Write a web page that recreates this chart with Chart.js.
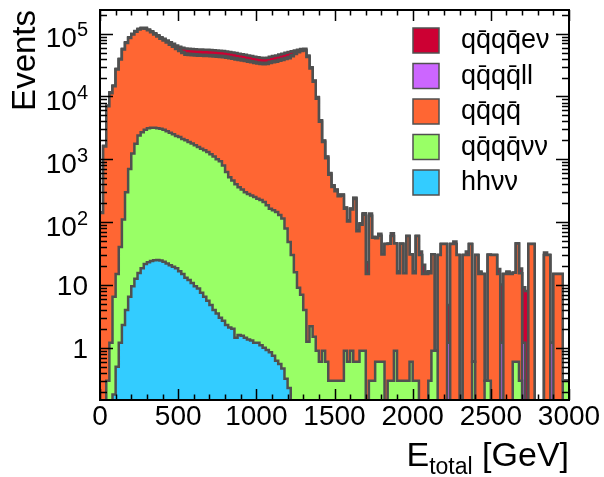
<!DOCTYPE html>
<html>
<head>
<meta charset="utf-8">
<script src="https://cdn.jsdelivr.net/npm/chart.js@4.4.1/dist/chart.umd.min.js"></script>
<style>
  html, body { margin: 0; padding: 0; background: #fff; }
  #wrap { width: 604px; height: 477px; }
</style>
</head>
<body>
<div id="wrap"><canvas id="c" width="604" height="477"></canvas></div>
<script>
// 150 bins of 20 GeV, E_total from 0 to 3000 GeV
const binWidth = 20;
const xTicks = [0, 500, 1000, 1500, 2000, 2500, 3000];
const yTicks = [1, 10, 100, 1000, 10000, 100000];
const yTickBase = ['1', '10', '10', '10', '10', '10'];
const yTickExp = ['', '', '2', '3', '4', '5'];

// stack order, bottom to top
const stackNames = ['hhνν', 'qq̄qq̄νν', 'qq̄qq̄', 'qq̄qq̄ll', 'qq̄qq̄eν'];
const stackColors = ['#33ccff', '#99ff66', '#ff6633', '#cc66ff', '#cc0033'];

const hhvv = [
  0, 0, 0, 0, 0.18, 0.5, 1.2, 2.3, 4.0, 6.5,
  9.5, 12.5, 15.5, 18.5, 21.5, 23, 24, 24.8, 25, 24.5,
  23.5, 22, 20.5, 19.5, 18.5, 16.5, 15, 13, 12, 10.7,
  9.5, 8.8, 7.5, 6.5, 5.6, 4.8, 4.0, 3.5, 3.0, 2.7,
  2.3, 2.1, 2.0, 1.45, 1.6, 1.55, 1.45, 1.35, 1.3, 1.2,
  1.2, 1.1, 1.0, 0.92, 0.85, 0.75, 0.62, 0.55, 0.47, 0.32,
  0.23, 0, 0, 0, 0, 0, 0, 0, 0, 0,
  0, 0, 0, 0, 0, 0, 0, 0, 0, 0,
  0, 0, 0, 0, 0, 0, 0, 0, 0, 0,
  0, 0, 0, 0, 0, 0, 0, 0, 0, 0,
  0, 0, 0, 0, 0, 0, 0, 0, 0, 0,
  0, 0, 0, 0, 0, 0, 0, 0, 0, 0,
  0, 0, 0, 0, 0, 0, 0, 0, 0, 0,
  0, 0, 0, 0, 0, 0, 0, 0, 0, 0,
  0, 0, 0, 0, 0, 0, 0, 0, 0, 0
];

const qqqqvv = [
  0, 0, 0.3, 1.2, 6.3, 14.5, 39, 108, 296, 694,
  1230, 1760, 2380, 2680, 2930, 3110, 3150, 3160, 3110, 3030,
  2930, 2780, 2630, 2480, 2330, 2250, 2090, 1990, 1870, 1770,
  1660, 1560, 1470, 1390, 1300, 1200, 1100, 1000, 927, 797,
  628, 518, 458, 398, 358, 328, 298, 279, 264, 249,
  235, 224, 209, 184, 163, 154, 144, 129, 114, 79,
  48, 30, 16, 9, 7, 4, 1.25, 2.2, 1.5, 0.9,
  0.6, 0.9, 0.6, 0.3, 0.3, 0.3, 0.3, 0.3, 0.9, 0.6,
  0.9, 0.6, 0.6, 0.9, 0.9, 0, 0.3, 0.3, 0.6, 0.6,
  0.6, 0, 0.3, 0.3, 0.9, 0.3, 0.3, 0.3, 0.3, 0.6,
  0.3, 0.3, 0, 0, 0, 0.3, 0.9, 0.9, 0, 0,
  0, 0, 0, 0, 0, 0, 0, 0, 0, 0.6,
  0, 0, 0, 0.3, 0.3, 0, 0, 0, 0, 0,
  0, 0, 0.6, 0.6, 0.3, 0, 0, 0, 0, 0,
  0, 0, 0, 0, 0, 0, 0, 0, 0.3, 0.3
];

const qqqq = [
  140, 1600, 6980, 11300, 14500, 26900, 38600, 55800, 70500, 84700,
  95800, 105000, 114000, 117600, 117300, 109800, 102400, 94200, 87100, 80100,
  75210, 69820, 64050, 59300, 54550, 50530, 47150, 44110, 43830, 43540,
  43250, 42950, 42880, 42720, 42650, 42530, 42230, 41930, 41600, 41340,
  40710, 40030, 39290, 38560, 37800, 37040, 36270, 35500, 34720, 33940,
  33150, 32770, 32390, 32810, 34030, 34830, 35640, 36840, 38050, 39270,
  40500, 43670, 47280, 50590, 52890, 54150, 42700, 27800, 17100, 9210,
  3950, 1880, 1040, 569, 363, 310, 258, 262, 162, 102,
  158, 233, 71, 90, 130, 15, 125, 56, 55, 60,
  30, 45, 45, 60, 45, 15, 45, 15, 60, 30,
  15, 60, 30, 15, 15, 15, 30, 0, 30, 45,
  45, 0, 45, 45, 30, 0, 30, 30, 45, 0,
  30, 15, 15, 0, 30, 30, 30, 15, 0, 15,
  15, 15, 15, 45, 15, 0, 0, 45, 45, 0,
  0, 0, 30, 30, 0, 15, 15, 15, 0, 0
];

const qqqqll = [
  1.4, 16, 72, 117, 150, 277, 398, 576, 730, 880,
  1000, 1100, 1200, 1240, 1240, 1230, 1210, 1180, 1150, 1120,
  1100, 1080, 1200, 1400, 1600, 1800, 1950, 2030, 2010, 2000,
  1980, 1960, 1950, 1940, 1940, 1930, 1910, 1890, 1870, 1860,
  1820, 1790, 1750, 1720, 1680, 1650, 1610, 1580, 1540, 1510,
  1470, 1450, 1440, 1450, 1510, 1540, 1580, 1630, 1680, 1730,
  1790, 1800, 1700, 1400, 1300, 1150, 900, 880, 540, 490,
  210, 100, 55, 30, 19, 17, 14, 10, 6, 4,
  5, 8, 2, 3, 4, 0, 2, 1, 1.2, 0,
  0, 0, 0, 0, 0, 1.2, 0, 0, 0, 0,
  1.2, 0, 0, 0, 1.2, 1.2, 0, 0, 0, 0,
  0, 1.2, 0, 0, 0, 0, 0, 0, 0, 0,
  0, 1.2, 0, 0, 0, 0, 0, 0, 1.2, 0,
  1.2, 0, 0, 0, 0, 1.2, 0, 0, 0, 0,
  0, 0, 0, 0, 1.2, 0, 0, 0, 0, 0
];

const qqqqev = [
  2.9, 33, 144, 234, 300, 554, 796, 1150, 1460, 1760,
  2000, 2200, 2400, 2480, 2480, 2340, 2750, 3060, 3330, 3520,
  3740, 4300, 5100, 5800, 6500, 7400, 8300, 9860, 9780, 9690,
  9610, 9520, 9490, 9440, 9400, 9350, 9270, 9180, 9100, 9010,
  8840, 8670, 8500, 8330, 8160, 7990, 7820, 7650, 7480, 7310,
  7140, 7060, 6970, 7060, 7310, 7480, 7650, 7910, 8160, 8420,
  8670, 7000, 5000, 3500, 2800, 2300, 1350, 590, 360, 98,
  42, 20, 11, 6, 4, 3, 3, 3, 2, 1,
  1, 2, 1, 2, 3, 8, 10, 1, 1, 5,
  0, 0, 0, 6, 0, 0, 0, 0, 0, 0,
  0, 0, 4, 6, 0, 0, 0, 0, 0, 0,
  0, 3.6, 0, 4, 0, 0, 0, 4, 0, 0,
  0, 0, 0, 0, 0, 0, 0, 3, 9, 0,
  0, 0, 0, 0, 3, 8, 8, 0, 0, 0,
  0, 0, 3, 0, 0, 0, 0, 0, 0, 0
];

const stack = [hhvv, qqqqvv, qqqq, qqqqll, qqqqev];

// cumulative sums for the stacked histogram
const cumulative = [];
let running = new Array(hhvv.length).fill(0);
stack.forEach(s => {
  running = running.map((v, i) => v + s[i]);
  cumulative.push(running.slice());
});

// empty bins go below the axis minimum so they are clipped away
function stepPoints(arr) {
  const pts = arr.map((v, i) => ({ x: i * binWidth, y: v > 0 ? v : 1e-3 }));
  pts.push({ x: arr.length * binWidth, y: pts[pts.length - 1].y });
  return pts;
}

const outline = '#505050';
const font = '"Liberation Sans", Arial, Helvetica, sans-serif';

// index 0 is drawn last, so lowest stack component sits on top
const datasets = cumulative.map((c, i) => ({
  label: stackNames[i],
  data: stepPoints(c),
  stepped: true,
  borderColor: outline,
  borderWidth: 2.5,
  backgroundColor: stackColors[i],
  fill: 'start',
  pointRadius: 0,
  tension: 0
}));

const rootStyle = {
  id: 'rootStyle',
  afterDraw(chart) {
    const ctx = chart.ctx;
    const a = chart.chartArea;
    const xs = chart.scales.x;
    const ys = chart.scales.y;
    ctx.save();

    // ticks
    ctx.strokeStyle = '#000';
    ctx.lineWidth = 1.5;
    ctx.beginPath();
    for (let v = 0; v <= 3000; v += 100) {
      const px = Math.round(xs.getPixelForValue(v)) + 0.5;
      const len = v % 500 === 0 ? 11 : 5.5;
      ctx.moveTo(px, a.bottom); ctx.lineTo(px, a.bottom - len);
      ctx.moveTo(px, a.top); ctx.lineTo(px, a.top + len);
    }
    for (let e = -1; e <= 5; e++) {
      for (let m = 1; m <= 9; m++) {
        const v = m * Math.pow(10, e);
        if (v < ys.min || v > ys.max) continue;
        const py = Math.round(ys.getPixelForValue(v)) + 0.5;
        const len = m === 1 ? 13 : 7;
        ctx.moveTo(a.left, py); ctx.lineTo(a.left + len, py);
        ctx.moveTo(a.right, py); ctx.lineTo(a.right - len, py);
      }
    }
    ctx.stroke();

    // frame
    ctx.lineWidth = 2;
    ctx.strokeRect(a.left, a.top, a.right - a.left, a.bottom - a.top);

    // x tick labels
    ctx.fillStyle = '#000';
    ctx.font = '28px ' + font;
    ctx.textAlign = 'center';
    ctx.textBaseline = 'alphabetic';
    xTicks.forEach(v => ctx.fillText(String(v), xs.getPixelForValue(v), 425));

    // y tick labels, 10 with superscript exponent
    ctx.textAlign = 'left';
    yTicks.forEach((v, i) => {
      const py = ys.getPixelForValue(v);
      ctx.font = '28px ' + font;
      const wb = ctx.measureText(yTickBase[i]).width;
      if (yTickExp[i]) {
        ctx.font = '20px ' + font;
        const we = ctx.measureText(yTickExp[i]).width;
        const x0 = 88 - we - wb;
        ctx.font = '28px ' + font;
        ctx.fillText(yTickBase[i], x0, py + 13.5);
        ctx.font = '20px ' + font;
        ctx.fillText(yTickExp[i], x0 + wb, py + 2.5);
      } else {
        ctx.fillText(yTickBase[i], 88 - wb, py + 10.5);
      }
    });

    // y title
    ctx.save();
    ctx.translate(35, a.top);
    ctx.rotate(-Math.PI / 2);
    ctx.font = '33px ' + font;
    ctx.textAlign = 'right';
    ctx.fillText('Events', 0, 0);
    ctx.restore();

    // x title: E_total [GeV]
    const big = '34px ' + font, small = '23px ' + font;
    ctx.font = big; const wE = ctx.measureText('E').width;
    const wG = ctx.measureText(' [GeV]').width;
    ctx.font = small; const wt = ctx.measureText('total').width;
    let tx = a.right - (wE + wt + wG);
    ctx.textAlign = 'left';
    ctx.font = big; ctx.fillText('E', tx, 466); tx += wE;
    ctx.font = small; ctx.fillText('total', tx, 474); tx += wt;
    ctx.font = big; ctx.fillText(' [GeV]', tx, 466);

    // legend, top component first
    ctx.font = '27px ' + font;
    ctx.textBaseline = 'middle';
    for (let j = 0; j < stackNames.length; j++) {
      const i = stackNames.length - 1 - j;
      const by = 28 + 35.5 * j;
      ctx.fillStyle = stackColors[i];
      ctx.fillRect(413, by, 26, 25);
      ctx.strokeStyle = outline;
      ctx.lineWidth = 1.5;
      ctx.strokeRect(413, by, 26, 25);
      ctx.fillStyle = '#000';
      ctx.fillText(stackNames[i], 461, by + 13);
    }
    ctx.restore();
  }
};

new Chart(document.getElementById('c'), {
  type: 'line',
  data: { datasets },
  options: {
    responsive: false,
    animation: false,
    devicePixelRatio: 1,
    layout: { padding: { left: 100, right: 35, top: 10, bottom: 77 } },
    plugins: { legend: { display: false }, tooltip: { enabled: false } },
    scales: {
      x: { type: 'linear', min: 0, max: 3000, display: false },
      y: { type: 'logarithmic', min: 0.1475, max: 238000, display: false }
    }
  },
  plugins: [rootStyle]
});
</script>
</body>
</html>
